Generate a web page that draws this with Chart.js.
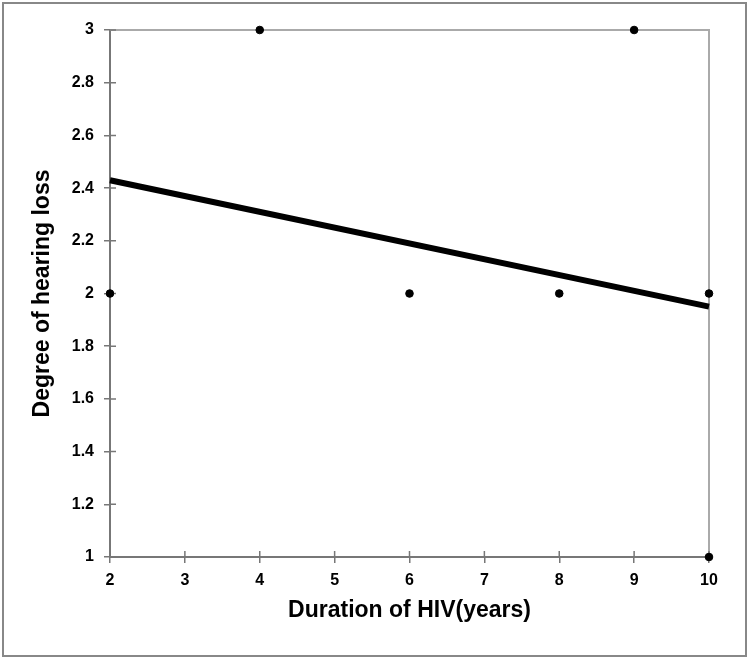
<!DOCTYPE html>
<html>
<head>
<meta charset="utf-8">
<script src="https://cdn.jsdelivr.net/npm/chart.js@4"></script>
<style>
  html, body { margin: 0; padding: 0; background: #fff; }
  #wrap { width: 750px; height: 661px; }
</style>
</head>
<body>
<div id="wrap"><canvas id="scatterChart" width="750" height="661"></canvas></div>
<script>
// observed points
const durationYears = [2, 4, 6, 8, 9, 10, 10];
const hearingLoss = [2, 3, 2, 2, 3, 2, 1];

// fitted trend line (ends)
const trendX = [2, 10];
const trendY = [2.43, 1.95];

const xTitle = 'Duration of HIV(years)';
const yTitle = 'Degree of hearing loss';

const axisGray = '#777';
const fontFamily = '"Liberation Sans", Arial, Helvetica, sans-serif';

// outer frame + top/right plot border + inward tick halves
const framePlugin = {
  id: 'frame',
  beforeDraw(chart) {
    const ctx = chart.ctx;
    ctx.save();
    ctx.fillStyle = '#fff';
    ctx.fillRect(0, 0, chart.width, chart.height);
    ctx.strokeStyle = '#888';
    ctx.lineWidth = 2;
    ctx.strokeRect(3, 3, 743, 653);
    ctx.restore();
  },
  beforeDatasetsDraw(chart) {
    const { ctx, chartArea: a, scales } = chart;
    ctx.save();
    ctx.strokeStyle = '#aaa';
    ctx.lineWidth = 2;
    ctx.beginPath();
    ctx.moveTo(a.left, a.top);
    ctx.lineTo(a.right, a.top);
    ctx.lineTo(a.right, a.bottom);
    ctx.stroke();

    ctx.strokeStyle = axisGray;
    ctx.lineWidth = 1.5;
    ctx.beginPath();
    scales.x.ticks.forEach(t => {
      const px = scales.x.getPixelForValue(t.value);
      ctx.moveTo(px, a.bottom);
      ctx.lineTo(px, a.bottom - 6);
    });
    scales.y.ticks.forEach(t => {
      const py = scales.y.getPixelForValue(t.value);
      ctx.moveTo(a.left, py);
      ctx.lineTo(a.left + 6, py);
    });
    ctx.stroke();
    ctx.restore();
  }
};

const ctx = document.getElementById('scatterChart').getContext('2d');
new Chart(ctx, {
  type: 'scatter',
  data: {
    datasets: [
      {
        type: 'line',
        label: 'Trend',
        data: trendX.map((x, i) => ({ x: x, y: trendY[i] })),
        borderColor: '#000',
        borderWidth: 6,
        pointRadius: 0,
        fill: false,
        clip: false,
        order: 2,
      },
      {
        label: 'Patients',
        data: durationYears.map((x, i) => ({ x: x, y: hearingLoss[i] })),
        backgroundColor: '#000',
        borderColor: '#000',
        pointRadius: 3.8,
        clip: false,
        order: 1,
      },
    ],
  },
  options: {
    responsive: false,
    animation: false,
    layout: {
      padding: { left: 0, top: 30, right: 41, bottom: 0 },
    },
    plugins: {
      legend: { display: false },
      tooltip: { enabled: false },
    },
    scales: {
      x: {
        type: 'linear',
        min: 2,
        max: 10,
        ticks: {
          stepSize: 1,
          color: '#000',
          padding: 8,
          font: { family: fontFamily, size: 16, weight: 'bold' },
        },
        grid: {
          drawOnChartArea: false,
          tickLength: 6,
          color: axisGray,
          lineWidth: 1.5,
        },
        border: { color: axisGray, width: 2 },
        title: {
          display: true,
          text: xTitle,
          color: '#000',
          font: { family: fontFamily, size: 23, weight: 'bold' },
          padding: { top: 0, bottom: 37 },
        },
        afterFit(scale) { scale.height = 104; },
      },
      y: {
        type: 'linear',
        min: 1,
        max: 3,
        ticks: {
          stepSize: 0.2,
          color: '#000',
          padding: 10,
          font: { family: fontFamily, size: 16, weight: 'bold' },
          callback: (v) => String(Number(v.toFixed(1))),
        },
        grid: {
          drawOnChartArea: false,
          tickLength: 6,
          color: axisGray,
          lineWidth: 1.5,
        },
        border: { color: axisGray, width: 2 },
        title: {
          display: true,
          text: yTitle,
          color: '#000',
          font: { family: fontFamily, size: 23, weight: 'bold' },
          padding: { top: 29, bottom: 0 },
        },
        afterFit(scale) { scale.width = 110; },
      },
    },
  },
  plugins: [framePlugin],
});
</script>
</body>
</html>
